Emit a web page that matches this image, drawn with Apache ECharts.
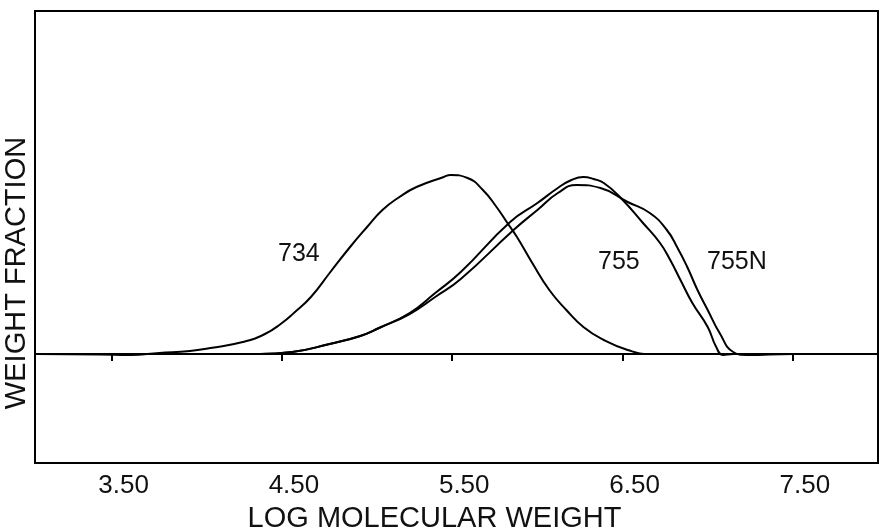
<!DOCTYPE html>
<html>
<head>
<meta charset="utf-8">
<title>Weight fraction vs log molecular weight</title>
<script src="https://cdn.jsdelivr.net/npm/echarts@6/dist/echarts.min.js"></script>
</head>
<body style="margin:0">
<div id="container" style="width:880px;height:531px;"></div>
<script type="text/javascript">
// tick labels on the x axis
var tickValues = [3.5, 4.5, 5.5, 6.5, 7.5];

// curves: [log M, weight fraction (relative)]
var s734 = [
    [3.056, 0.00], [3.43, -0.005], [3.61, -0.01], [3.78, 0.01], [3.96, 0.03],
    [4.08, 0.06], [4.27, 0.12], [4.40, 0.20], [4.50, 0.31], [4.57, 0.41],
    [4.67, 0.57], [4.78, 0.81], [4.90, 1.07], [5.00, 1.27], [5.09, 1.44],
    [5.19, 1.57], [5.29, 1.67], [5.45, 1.77], [5.49, 1.79], [5.59, 1.76],
    [5.68, 1.64], [5.76, 1.47], [5.82, 1.32], [5.88, 1.17], [5.97, 0.91],
    [6.07, 0.64], [6.17, 0.44], [6.27, 0.27], [6.39, 0.14], [6.53, 0.04],
    [6.66, 0.00], [7.30, 0.00], [8.00, 0.00]
];
var s755 = [
    [3.96, 0.00], [4.21, 0.00], [4.37, 0.00], [4.56, 0.02], [4.78, 0.10],
    [4.96, 0.18], [5.07, 0.26], [5.25, 0.41], [5.40, 0.61], [5.55, 0.82],
    [5.84, 1.32], [6.00, 1.51], [6.12, 1.66], [6.20, 1.74], [6.27, 1.77],
    [6.33, 1.75], [6.39, 1.71], [6.49, 1.56], [6.62, 1.31], [6.72, 1.11],
    [6.78, 0.94], [6.84, 0.74], [6.91, 0.51], [7.00, 0.27], [7.05, 0.07],
    [7.09, -0.01], [7.15, 0.00], [8.00, 0.00]
];
var s755N = [
    [3.96, 0.00], [4.21, 0.00], [4.37, 0.00], [4.56, 0.02], [4.78, 0.10],
    [4.96, 0.18], [5.07, 0.26], [5.25, 0.40], [5.40, 0.57], [5.55, 0.75],
    [5.86, 1.24], [6.00, 1.44], [6.12, 1.61], [6.23, 1.69], [6.37, 1.66],
    [6.53, 1.52], [6.66, 1.41], [6.76, 1.24], [6.82, 1.07], [6.88, 0.87],
    [6.94, 0.64], [7.00, 0.44], [7.07, 0.21], [7.15, 0.02], [7.23, -0.01],
    [7.50, 0.00], [8.00, 0.00]
];

var font = 'Liberation Sans, Arial, sans-serif';

function curve(name, data) {
    return {
        name: name,
        type: 'line',
        data: data,
        smooth: 0.5,
        showSymbol: false,
        lineStyle: { color: '#000', width: 2 },
        silent: true
    };
}

var container = document.getElementById('container');
var myChart = echarts.init(container);
myChart.setOption({
    backgroundColor: '#fff',
    animation: false,
    grid: {
        left: 35, right: 2, top: 11, bottom: 68,
        outerBoundsMode: 'none',
        containLabel: false,
        show: true, borderColor: '#000', borderWidth: 2
    },
    xAxis: {
        type: 'value',
        min: 3.05,
        max: 8.0,
        name: 'LOG MOLECULAR WEIGHT',
        nameLocation: 'middle',
        nameGap: 41,
        nameTextStyle: { fontFamily: font, fontSize: 29, color: '#111', padding: [0, 44, 0, 0] },
        axisLine: { lineStyle: { color: '#000', width: 2 } },
        axisTick: { customValues: tickValues, length: 7, lineStyle: { color: '#000', width: 2 } },
        axisLabel: {
            customValues: tickValues,
            formatter: function (v) { return v.toFixed(2); },
            fontFamily: font, fontSize: 26, color: '#111',
            margin: 10, padding: [0, 0, 0, 24]
        },
        splitLine: { show: false }
    },
    yAxis: {
        type: 'value',
        min: -1.09,
        max: 3.43,
        name: 'WEIGHT FRACTION',
        nameLocation: 'middle',
        nameGap: 4,
        nameTextStyle: { fontFamily: font, fontSize: 29, color: '#111', padding: [0, 72, 0, 0] },
        axisLine: { lineStyle: { color: '#000', width: 2 } },
        axisTick: { show: false },
        axisLabel: { show: false },
        splitLine: { show: false }
    },
    graphic: [
        { type: 'text', left: 278, top: 242, style: { text: '734', font: '25px ' + font, fill: '#111' } },
        { type: 'text', left: 598, top: 250, style: { text: '755', font: '25px ' + font, fill: '#111' } },
        { type: 'text', left: 707, top: 250, style: { text: '755N', font: '25px ' + font, fill: '#111' } }
    ],
    series: [
        curve('734', s734),
        curve('755', s755),
        curve('755N', s755N)
    ]
});
</script>
</body>
</html>
